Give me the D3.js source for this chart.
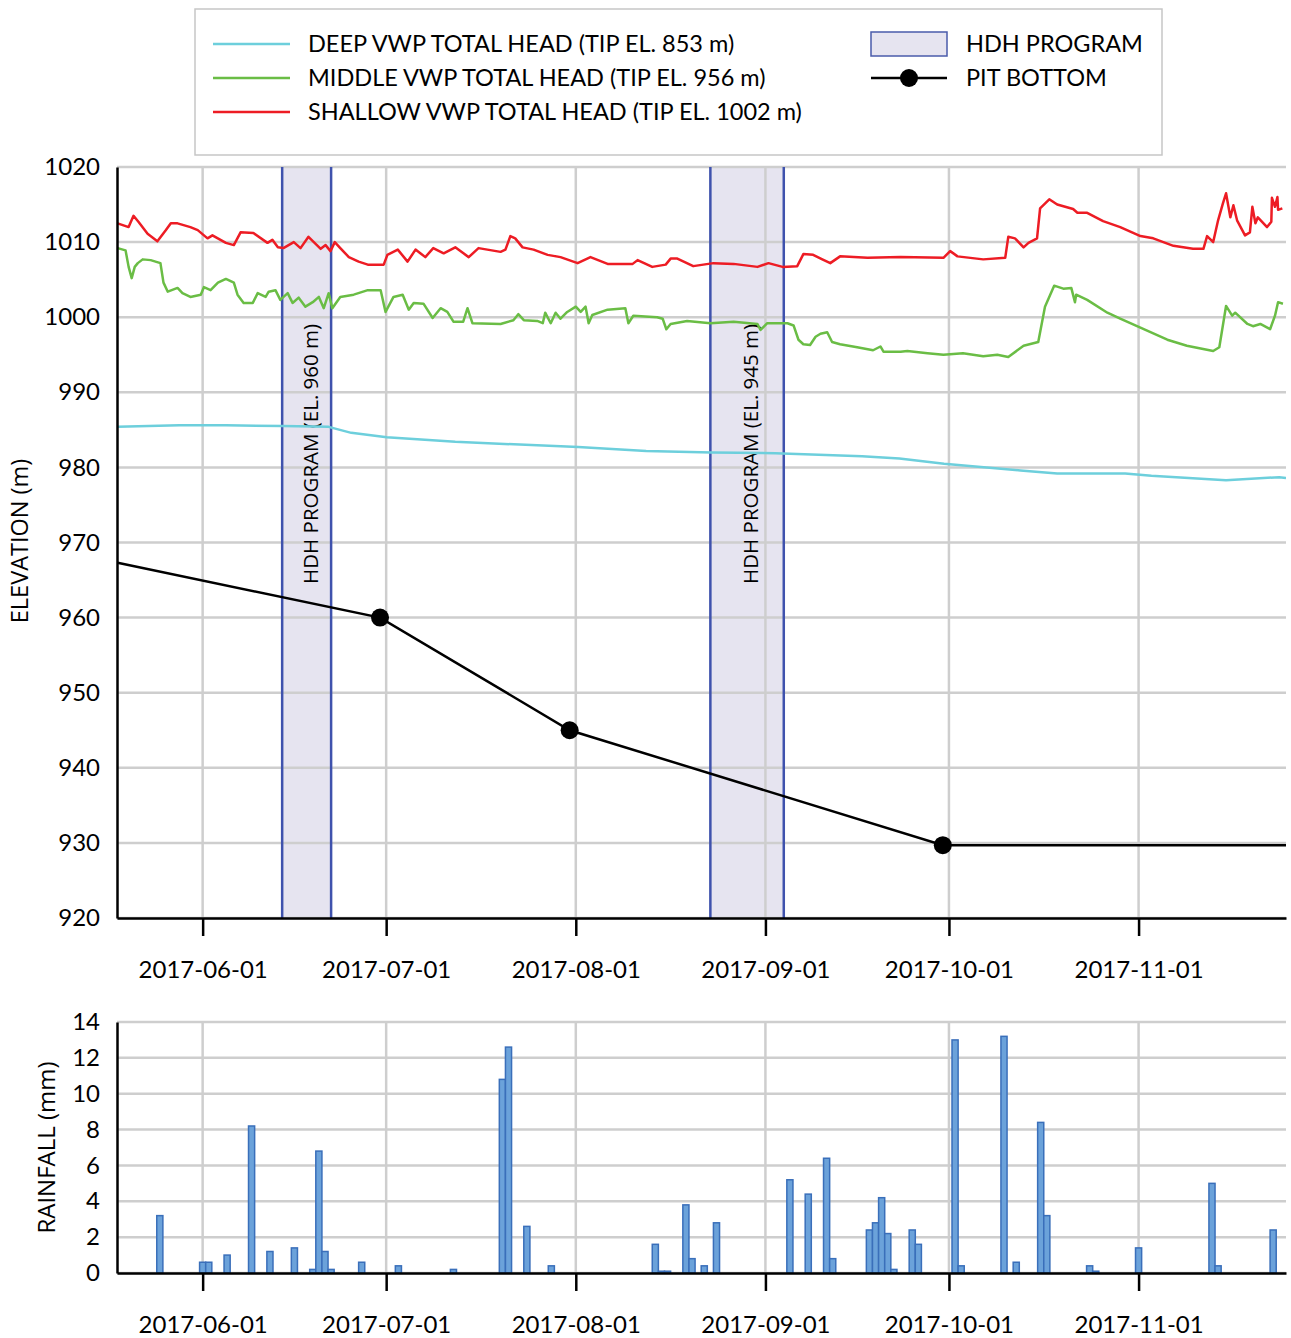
<!DOCTYPE html>
<html>
<head>
<meta charset="utf-8">
<script src="https://cdn.jsdelivr.net/npm/d3@7"></script>
<style>
  body { margin: 0; background: #fff; }
  .tick text { font-family: Lato, sans-serif; font-size: 24px; fill: #000; }
</style>
</head>
<body>
<svg id="chart" width="1291" height="1338"></svg>
<script>
// days are counted from 2017-06-01 (fractional days allowed)
const monthTicks = ["2017-06-01", "2017-07-01", "2017-08-01", "2017-09-01", "2017-10-01", "2017-11-01"]
const elevTicks = [920, 930, 940, 950, 960, 970, 980, 990, 1000, 1010, 1020]
const rainTicks = [0, 2, 4, 6, 8, 10, 12, 14]

const deepDay = [-13.9, -3.8, 3.8, 13.1, 20.6, 24.3, 30.1, 41.3, 61.4, 72.5, 83.2, 93.6, 107.8, 113.9, 121.2, 133.7, 139.7, 150.8, 155.1, 167.3, 176.0, 177.1]
const deepHead = [985.4, 985.6, 985.6, 985.5, 985.4, 984.6, 984.0, 983.4, 982.7, 982.2, 982.0, 981.9, 981.5, 981.2, 980.5, 979.6, 979.2, 979.2, 978.9, 978.3, 978.7, 978.6]

const middleDay = [-13.9, -12.6, -12.1, -11.6, -11.1, -10.6, -9.8, -8.5, -6.9, -6.4, -5.7, -4.1, -3.3, -2.0, -0.3, 0.2, 1.3, 2.5, 3.8, 5.1,
  5.7, 6.7, 8.2, 9.0, 10.3, 10.8, 11.9, 12.7, 13.9, 14.7, 15.7, 16.8, 18.0, 19.0, 19.8, 20.6, 21.2, 22.5, 24.7, 27.0,
  29.1, 29.9, 31.2, 32.7, 33.7, 34.5, 36.1, 37.6, 38.9, 40.0, 41.0, 42.6, 43.3, 44.1, 48.7, 50.8, 51.6, 52.5, 54.7, 55.6,
  56.0, 56.9, 57.7, 58.5, 59.6, 61.0, 61.8, 62.6, 63.1, 63.7, 66.2, 69.1, 69.6, 70.4, 74.3, 75.2, 75.8, 76.5, 79.2, 83.0,
  86.8, 90.7, 91.2, 92.3, 95.6, 96.6, 97.4, 98.2, 99.3, 100.2, 101.0, 102.1, 102.9, 104.2, 107.0, 109.6, 110.8, 111.3, 114.1, 115.2,
  118.5, 121.1, 124.3, 127.6, 129.9, 131.7, 134.2, 136.6, 137.7, 139.2, 140.7, 142.0, 142.6, 142.8, 144.6, 147.9, 150.0, 153.3, 157.7, 160.9,
  165.2, 166.2, 167.3, 168.3, 168.8, 170.8, 171.7, 172.9, 174.5, 175.3, 175.8, 176.6]
const middleHead = [1009.2, 1008.9, 1006.7, 1005.2, 1006.7, 1007.2, 1007.7, 1007.6, 1007.2, 1004.6, 1003.4, 1003.9, 1003.2, 1002.7, 1003.0, 1004.0, 1003.6, 1004.6, 1005.1, 1004.6,
  1003.0, 1001.9, 1001.9, 1003.2, 1002.7, 1003.4, 1003.6, 1002.3, 1003.2, 1001.9, 1002.6, 1001.4, 1002.0, 1002.7, 1001.2, 1003.2, 1001.2, 1002.7, 1003.0, 1003.6,
  1003.6, 1000.7, 1002.7, 1003.0, 1001.0, 1001.9, 1001.8, 999.9, 1001.2, 1000.7, 999.4, 999.4, 1001.2, 999.2, 999.1, 999.6, 1000.4, 999.6, 999.5, 999.2,
  1000.6, 999.2, 1000.6, 999.8, 1000.7, 1001.4, 1000.7, 1001.4, 999.2, 1000.3, 1001.0, 1001.2, 999.2, 1000.2, 1000.0, 999.8, 998.4, 999.1, 999.5, 999.2,
  999.4, 999.1, 998.3, 999.2, 999.2, 998.9, 997.0, 996.4, 996.3, 997.4, 997.8, 998.0, 996.7, 996.4, 996.0, 995.6, 996.1, 995.4, 995.4, 995.5,
  995.2, 995.0, 995.2, 994.8, 995.0, 994.7, 996.2, 996.7, 1001.4, 1004.2, 1003.8, 1003.9, 1002.0, 1003.0, 1002.3, 1000.6, 999.8, 998.6, 997.0, 996.2,
  995.5, 996.0, 1001.5, 1000.2, 1000.6, 999.1, 998.8, 999.1, 998.4, 1000.2, 1002.0, 1001.8]

const shallowDay = [-13.9, -12.1, -11.3, -10.5, -9.0, -7.4, -6.0, -5.2, -4.1, -2.0, -0.8, 0.8, 1.6, 3.8, 5.1, 6.2, 8.3, 10.6, 11.4, 12.3,
  13.2, 14.9, 16.0, 17.3, 19.3, 20.1, 20.9, 21.6, 22.5, 23.9, 25.5, 27.0, 29.6, 30.2, 31.9, 33.5, 34.8, 36.4, 37.7, 39.4,
  41.3, 43.5, 45.1, 48.7, 49.5, 50.3, 51.1, 52.3, 54.1, 56.4, 58.5, 61.3, 63.4, 66.2, 70.3, 71.1, 73.5, 75.7, 76.5, 77.6,
  80.2, 83.5, 86.8, 90.7, 92.5, 94.8, 97.2, 98.2, 99.8, 101.3, 102.6, 104.2, 108.7, 114.1, 121.1, 122.2, 123.4, 127.6, 131.2, 131.7,
  132.8, 134.2, 135.0, 136.4, 136.9, 138.4, 139.7, 142.3, 143.0, 144.6, 147.2, 150.0, 153.3, 155.4, 158.7, 161.9, 163.6, 164.2, 165.2, 166.0,
  166.8, 167.3, 168.0, 168.5, 169.1, 170.4, 171.2, 171.6, 172.1, 172.5, 174.0, 174.7, 174.8, 175.3, 175.7, 175.8, 176.5]
const shallowHead = [1012.5, 1012.0, 1013.5, 1012.7, 1011.1, 1010.1, 1011.6, 1012.5, 1012.5, 1012.0, 1011.6, 1010.5, 1010.9, 1009.9, 1009.6, 1011.3, 1011.2, 1009.9, 1010.3, 1009.3,
  1009.2, 1010.0, 1009.2, 1010.7, 1009.1, 1009.6, 1008.8, 1010.0, 1009.2, 1008.0, 1007.4, 1007.0, 1007.0, 1008.3, 1009.0, 1007.4, 1009.0, 1008.0, 1009.2, 1008.5,
  1009.3, 1008.0, 1009.2, 1008.7, 1009.0, 1010.8, 1010.5, 1009.3, 1009.0, 1008.3, 1008.0, 1007.2, 1008.0, 1007.1, 1007.1, 1007.6, 1006.7, 1007.0, 1007.8, 1007.8,
  1006.8, 1007.2, 1007.1, 1006.7, 1007.2, 1006.7, 1006.8, 1008.4, 1008.3, 1007.7, 1007.2, 1008.1, 1007.9, 1008.0, 1007.9, 1008.8, 1008.1, 1007.7, 1007.9, 1010.7,
  1010.5, 1009.3, 1009.9, 1010.5, 1014.5, 1015.7, 1015.0, 1014.4, 1013.9, 1013.9, 1012.8, 1012.0, 1010.8, 1010.5, 1009.5, 1009.1, 1009.1, 1010.8, 1010.0, 1012.9,
  1015.2, 1016.5, 1013.3, 1014.9, 1012.9, 1010.9, 1011.3, 1014.7, 1012.5, 1013.3, 1012.0, 1012.7, 1015.9, 1014.7, 1016.0, 1014.3, 1014.5]

const pitDay = [-13.9, 29, 60, 121, 177.1]
const pitElev = [967.3, 960, 945, 929.7, 929.7]

const bandStart = [13, 83]
const bandEnd = [21, 95]
const bandLabels = ["HDH PROGRAM (EL. 960 m)", "HDH PROGRAM (EL. 945 m)"]

const rainDay = [-7, 0, 1, 4, 8, 11, 15, 18, 19, 20, 21, 26, 32, 41, 49, 50, 53, 57, 74, 75, 76, 79, 80, 82, 84,
  96, 99, 102, 103, 109, 110, 111, 112, 113, 116, 117, 123, 124, 131, 133, 137, 138, 145, 146, 153, 165, 166, 175]
const rainMm = [3.2, 0.6, 0.6, 1.0, 8.2, 1.2, 1.4, 0.2, 6.8, 1.2, 0.2, 0.6, 0.4, 0.2, 10.8, 12.6, 2.6, 0.4, 1.6, 0.1, 0.1, 3.8, 0.8, 0.4, 2.8,
  5.2, 4.4, 6.4, 0.8, 2.4, 2.8, 4.2, 2.2, 0.2, 2.4, 1.6, 13.0, 0.4, 13.2, 0.6, 8.4, 3.2, 0.4, 0.1, 1.4, 5.0, 0.4, 2.4]

const day0 = new Date(2017, 5, 1)
const toDate = d => new Date(day0.getTime() + d * 864e5)
const parse = d3.timeParse("%Y-%m-%d")
const fmt = d3.timeFormat("%Y-%m-%d")

const left = 117, right = 1286
const x = d3.scaleTime().domain([toDate(-14), toDate(177.1)]).range([left, right])
const y = d3.scaleLinear().domain([920, 1020]).range([918, 167])
const yRain = d3.scaleLinear().domain([0, 14]).range([1273, 1022])

const gridColor = "#cecece"
const svg = d3.select("#chart")

svg.append("defs").append("clipPath").attr("id", "plotClip")
  .append("rect").attr("x", left).attr("y", 160).attr("width", right - left).attr("height", 760)

// HDH bands (fill first so the grid shows through)
const bands = bandStart.map((s, i) => ({ s: toDate(s), e: toDate(bandEnd[i]), label: bandLabels[i] }))
svg.append("g").selectAll("rect").data(bands).enter().append("rect")
  .attr("x", d => x(d.s)).attr("y", y(1020))
  .attr("width", d => x(d.e) - x(d.s)).attr("height", y(920) - y(1020))
  .attr("fill", "#e6e4f0")

// grid lines at ticks and month starts
function drawGrid(yScale, ticks) {
  const g = svg.append("g").attr("stroke", gridColor).attr("stroke-width", 2.5)
  g.selectAll(".h").data(ticks).enter().append("line")
    .attr("x1", left).attr("x2", right)
    .attr("y1", d => yScale(d)).attr("y2", d => yScale(d))
  g.selectAll(".v").data(monthTicks).enter().append("line")
    .attr("x1", d => x(parse(d))).attr("x2", d => x(parse(d)))
    .attr("y1", yScale.range()[1]).attr("y2", yScale.range()[0])
}
drawGrid(y, elevTicks)

// band edges and labels
const bandG = svg.append("g")
bands.forEach(b => {
  [b.s, b.e].forEach(t => {
    bandG.append("line")
      .attr("x1", x(t)).attr("x2", x(t))
      .attr("y1", y(1020)).attr("y2", y(920))
      .attr("stroke", "#3f52ad").attr("stroke-width", 2.5)
  })
  const cx = (x(b.s) + x(b.e)) / 2 + 4
  bandG.append("text")
    .attr("transform", "translate(" + cx + "," + y(981.8) + ") rotate(-90)")
    .attr("text-anchor", "middle")
    .attr("dy", "0.35em")
    .style("font-family", "'Open Sans', sans-serif")
    .style("font-size", "20.5px")
    .text(b.label)
})

// lines
const series = [
  { day: deepDay, v: deepHead, color: "#6dcfdc" },
  { day: middleDay, v: middleHead, color: "#6abd45" },
  { day: shallowDay, v: shallowHead, color: "#ed1c24" }
]
const line = d3.line().x(d => x(d.t)).y(d => y(d.v))
const lines = svg.append("g").attr("clip-path", "url(#plotClip)")
series.forEach(s => {
  const pts = s.day.map((d, i) => ({ t: toDate(d), v: s.v[i] }))
  lines.append("path").datum(pts)
    .attr("fill", "none").attr("stroke", s.color)
    .attr("stroke-width", 2.5).attr("stroke-linejoin", "round")
    .attr("d", line)
})

const pit = pitDay.map((d, i) => ({ t: toDate(d), v: pitElev[i] }))
lines.append("path").datum(pit)
  .attr("fill", "none").attr("stroke", "#000").attr("stroke-width", 2.5)
  .attr("d", line)
lines.selectAll(".pit").data(pit.slice(1, -1)).enter().append("circle")
  .attr("cx", d => x(d.t)).attr("cy", d => y(d.v)).attr("r", 9)
  .attr("fill", "#000")

// axes of the elevation chart
const xAxis = d3.axisBottom(x)
  .tickValues(monthTicks.map(parse))
  .tickFormat(fmt)
  .tickSize(18).tickSizeOuter(0).tickPadding(25)

function styleAxis(g) {
  g.select(".domain").attr("stroke", "#000").attr("stroke-width", 2.5)
  g.selectAll(".tick line").attr("stroke", "#000").attr("stroke-width", 2.5)
}

svg.append("g").attr("transform", "translate(0," + y(920) + ")").call(xAxis).call(styleAxis)
svg.append("g").attr("transform", "translate(" + left + ",0)")
  .call(d3.axisLeft(y).tickValues(elevTicks).tickFormat(d3.format("d"))
    .tickSize(0).tickSizeOuter(0).tickPadding(17))
  .call(styleAxis)

svg.append("text")
  .attr("transform", "translate(20," + y(970.2) + ") rotate(-90)")
  .attr("text-anchor", "middle").attr("dy", "0.35em")
  .style("font-family", "'Open Sans', sans-serif").style("font-size", "23.5px")
  .text("ELEVATION (m)")

// rainfall chart
drawGrid(yRain, rainTicks)
const bw = x(toDate(1)) - x(toDate(0))
svg.append("g").selectAll("rect")
  .data(rainDay.map((d, i) => ({ t: toDate(d), v: rainMm[i] })))
  .enter().append("rect")
  .attr("x", d => x(d.t) - bw / 2).attr("width", bw)
  .attr("y", d => yRain(d.v)).attr("height", d => yRain(0) - yRain(d.v))
  .attr("fill", "#6ba2da").attr("stroke", "#3a6fba").attr("stroke-width", 1.5)

svg.append("g").attr("transform", "translate(0," + yRain(0) + ")").call(xAxis).call(styleAxis)
svg.append("g").attr("transform", "translate(" + left + ",0)")
  .call(d3.axisLeft(yRain).tickValues(rainTicks).tickSize(0).tickSizeOuter(0).tickPadding(17))
  .call(styleAxis)

svg.append("text")
  .attr("transform", "translate(47," + yRain(7) + ") rotate(-90)")
  .attr("text-anchor", "middle").attr("dy", "0.35em")
  .style("font-family", "'Open Sans', sans-serif").style("font-size", "24px")
  .text("RAINFALL (mm)")

// legend
const legend = svg.append("g").style("font-family", "Lato, sans-serif").style("font-size", "23.5px")
legend.append("rect")
  .attr("x", 195).attr("y", 9).attr("width", 967).attr("height", 146)
  .attr("fill", "#fff").attr("stroke", "#c6c6c6").attr("stroke-width", 1.5)

const legendLines = [
  { label: "DEEP VWP TOTAL HEAD (TIP EL. 853 m)", color: "#6dcfdc" },
  { label: "MIDDLE VWP TOTAL HEAD (TIP EL. 956 m)", color: "#6abd45" },
  { label: "SHALLOW VWP TOTAL HEAD (TIP EL. 1002 m)", color: "#ed1c24" }
]
legendLines.forEach((d, i) => {
  const ly = 44 + i * 34
  legend.append("line").attr("x1", 213).attr("x2", 290).attr("y1", ly).attr("y2", ly)
    .attr("stroke", d.color).attr("stroke-width", 2.5)
  legend.append("text").attr("x", 308).attr("y", ly).attr("dy", "0.35em").text(d.label)
})

legend.append("rect").attr("x", 871).attr("y", 32).attr("width", 76).attr("height", 24)
  .attr("fill", "#e6e4f0").attr("stroke", "#4a5bab").attr("stroke-width", 1.5)
legend.append("text").attr("x", 966).attr("y", 44).attr("dy", "0.35em").text("HDH PROGRAM")
legend.append("line").attr("x1", 871).attr("x2", 947).attr("y1", 78).attr("y2", 78)
  .attr("stroke", "#000").attr("stroke-width", 2.5)
legend.append("circle").attr("cx", 909).attr("cy", 78).attr("r", 9).attr("fill", "#000")
legend.append("text").attr("x", 966).attr("y", 78).attr("dy", "0.35em").text("PIT BOTTOM")
</script>
</body>
</html>
